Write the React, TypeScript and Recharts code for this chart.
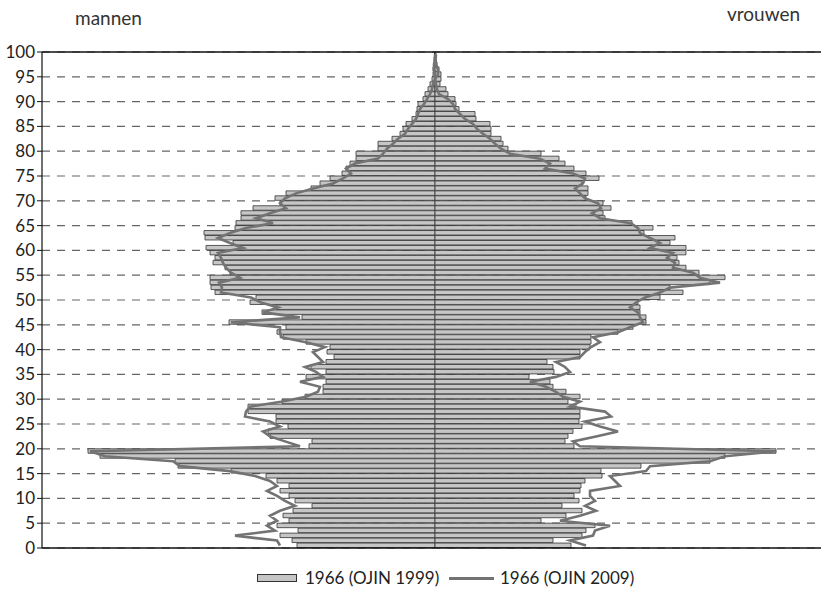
import { ComposedChart, Bar, Line, XAxis, YAxis, CartesianGrid, ReferenceLine } from 'recharts'

// leeftijd 0..99, waarden per leeftijdsjaar
const ages = Array.from({ length: 100 }, (_, i) => i)

const men1999 = [
  138, 143, 155, 137, 158, 146, 152, 142, 123, 140,
  146, 155, 146, 158, 169, 204, 257, 260, 335, 347,
  126, 123, 165, 167, 147, 159, 159, 187, 187, 153,
  130, 112, 112, 109, 129, 109, 124, 109, 101, 108,
  105, 129, 152, 158, 149, 206, 133, 173, 159, 185,
  179, 220, 224, 225, 225, 205, 210, 222, 220, 225,
  229, 202, 230, 231, 200, 199, 194, 194, 182, 155,
  160, 149, 124, 115, 105, 93, 89, 85, 79, 79,
  57, 57, 43, 35, 32, 29, 23, 19, 18, 17,
  12, 10, 7, 5, 3, 2, 2, 1, 1, 0.5,
]

const women1999 = [
  136, 118, 147, 151, 160, 106, 131, 147, 127, 144,
  139, 145, 146, 150, 167, 166, 206, 275, 290, 341,
  139, 130, 133, 138, 147, 144, 145, 145, 141, 133,
  145, 131, 118, 115, 94, 119, 118, 112, 145, 145,
  155, 156, 156, 183, 198, 211, 211, 205, 205, 203,
  225, 248, 235, 275, 290, 264, 251, 244, 242, 251,
  251, 235, 240, 209, 218, 197, 170, 168, 176, 168,
  151, 153, 153, 147, 164, 151, 139, 130, 124, 106,
  73, 68, 66, 56, 56, 55, 41, 40, 24, 21,
  20, 13, 11, 5, 6, 6, 4, 2, 1.5, 1,
]

const men2009 = [
  155, 158, 200, 160, 168, 158, 165, 155, 140, 150,
  158, 168, 158, 165, 180, 205, 255, 262, 330, 345,
  135, 150, 165, 172, 155, 165, 190, 189, 185, 154,
  129, 117, 115, 135, 112, 119, 130, 112, 117, 122,
  110, 129, 154, 155, 155, 204, 135, 172, 157, 174,
  184, 214, 213, 216, 195, 204, 209, 212, 214, 217,
  192, 205, 217, 205, 189, 162, 179, 165, 149, 155,
  150, 139, 122, 102, 92, 84, 89, 80, 57, 52,
  48, 42, 37, 30, 27, 23, 19, 17, 15, 11,
  8, 5, 3, 2, 0, 0, 1, 1, 0, 0,
]

const women2009 = [
  151, 135, 158, 160, 175, 125, 145, 161, 150, 160,
  155, 155, 185, 180, 175, 211, 215, 275, 290, 341,
  145, 138, 161, 183, 165, 150, 176, 170, 135, 145,
  128, 121, 111, 95, 121, 135, 130, 121, 145, 150,
  156, 165, 158, 183, 195, 208, 205, 203, 195, 201,
  210, 225, 235, 285, 265, 258, 238, 240, 232, 238,
  215, 225, 215, 205, 203, 196, 165, 157, 166, 163,
  150, 145, 140, 148, 150, 138, 110, 115, 105, 75,
  66, 60, 55, 48, 42, 38, 30, 25, 20, 18,
  13, 4, 2, 1, 0, 3, 3, 1, 0.5, 1,
]

const yTicks = [0, 5, 10, 15, 20, 25, 30, 35, 40, 45, 50, 55, 60, 65, 70, 75, 80, 85, 90, 95, 100]

const seriesNames = ['1966 (OJIN 1999)', '1966 (OJIN 2009)']

const data = ages.map((age, i) => ({
  y: age + 0.5,
  men1999: -men1999[i],
  women1999: women1999[i],
  men2009: -men2009[i],
  women2009: women2009[i],
}))

const font = 'Lato, "Open Sans", sans-serif'

export default function App() {
  return (
    <div
      style={{
        position: 'absolute',
        left: 0,
        top: 0,
        width: 821,
        height: 592,
        background: '#fff',
        fontFamily: font,
        color: '#333',
      }}
    >
      <div style={{ position: 'absolute', left: 75, top: 8, fontSize: 19, lineHeight: 1 }}>mannen</div>
      <div style={{ position: 'absolute', left: 727, top: 4, fontSize: 19, lineHeight: 1 }}>vrouwen</div>

      <ComposedChart
        width={821}
        height={592}
        data={data}
        layout="vertical"
        stackOffset="sign"
        margin={{ top: 52, right: 0, bottom: 44, left: 0 }}
      >
        <CartesianGrid horizontal vertical={false} stroke="#666" strokeWidth={1.2} strokeDasharray="8 7" />
        <XAxis
          type="number"
          domain={[-393, 386]}
          allowDataOverflow
          height={0}
          tick={false}
          tickLine={false}
          axisLine={false}
        />
        <YAxis
          type="number"
          dataKey="y"
          domain={[0, 100]}
          ticks={yTicks}
          interval={0}
          reversed
          allowDataOverflow
          width={42}
          tickSize={5}
          tickMargin={2}
          tick={{ fill: '#222', fontSize: 17, fontFamily: font }}
          axisLine={{ stroke: '#111', strokeWidth: 1.2 }}
          tickLine={{ stroke: '#111' }}
        />
        <ReferenceLine y={100} stroke="#111" strokeWidth={1.5} />
        <ReferenceLine y={0} stroke="#111" strokeWidth={1.5} />
        <Bar dataKey="men1999" stackId="p" fill="#c6c6c6" stroke="#333" strokeWidth={0.8} barSize={4.96} isAnimationActive={false} />
        <Bar dataKey="women1999" stackId="p" fill="#c6c6c6" stroke="#333" strokeWidth={0.8} barSize={4.96} isAnimationActive={false} />
        <Line dataKey="men2009" type="linear" stroke="#737373" strokeWidth={2.6} dot={false} activeDot={false} isAnimationActive={false} />
        <Line dataKey="women2009" type="linear" stroke="#737373" strokeWidth={2.6} dot={false} activeDot={false} isAnimationActive={false} />
      </ComposedChart>

      {/* legenda */}
      <div style={{ position: 'absolute', left: 257, top: 574, width: 38, height: 6, background: '#c6c6c6', border: '1px solid #333' }} />
      <div style={{ position: 'absolute', left: 305, top: 569, fontSize: 17, lineHeight: 1, color: '#222' }}>{seriesNames[0]}</div>
      <div style={{ position: 'absolute', left: 449, top: 577, width: 45, height: 2.5, background: '#737373' }} />
      <div style={{ position: 'absolute', left: 500, top: 569, fontSize: 17, lineHeight: 1, color: '#222' }}>{seriesNames[1]}</div>
    </div>
  )
}
